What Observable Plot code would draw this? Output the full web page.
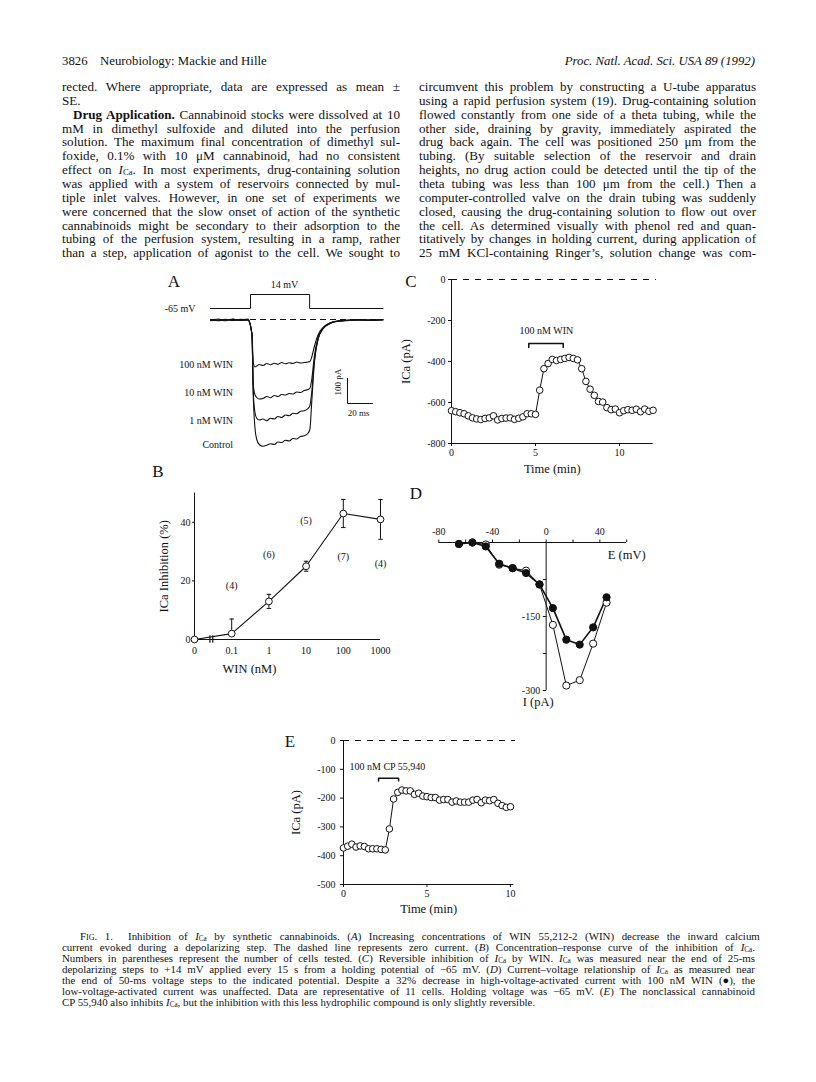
<!DOCTYPE html>
<html><head><meta charset="utf-8">
<script src="https://cdn.jsdelivr.net/npm/d3@7"></script>
<script src="https://cdn.jsdelivr.net/npm/@observablehq/plot@0.6"></script>
<style>
html,body{margin:0;padding:0;background:#fff;}
#page{position:relative;width:816px;height:1082px;overflow:hidden;font-family:"Liberation Serif","Times New Roman",serif;color:#111;}
.ln{position:absolute;white-space:nowrap;line-height:1;display:inline-block;}
.ln sub{font-size:66%;vertical-align:-0.12em;line-height:0;}
.sc{font-variant:small-caps;}
.plt{position:absolute;}
.lab{position:absolute;font-size:17px;line-height:1;transform:translate(-50%,-50%);}
</style></head>
<body><div id="page"></div>
<script>
// ---------------- DATA ----------------
const headerLeftNum = "3826";
const headerLeftText = "Neurobiology: Mackie and Hille";
const headerRight = "Proc. Natl. Acad. Sci. USA 89 (1992)";

const leftColumn = [
 "rected. Where appropriate, data are expressed as mean &plusmn;",
 "SE.",
 "<b>Drug Application.</b> Cannabinoid stocks were dissolved at 10",
 "mM in dimethyl sulfoxide and diluted into the perfusion",
 "solution. The maximum final concentration of dimethyl sul-",
 "foxide, 0.1% with 10 &mu;M cannabinoid, had no consistent",
 "effect on <i>I</i><sub>Ca</sub>. In most experiments, drug-containing solution",
 "was applied with a system of reservoirs connected by mul-",
 "tiple inlet valves. However, in one set of experiments we",
 "were concerned that the slow onset of action of the synthetic",
 "cannabinoids might be secondary to their adsorption to the",
 "tubing of the perfusion system, resulting in a ramp, rather",
 "than a step, application of agonist to the cell. We sought to"
];
const rightColumn = [
 "circumvent this problem by constructing a U-tube apparatus",
 "using a rapid perfusion system (19). Drug-containing solution",
 "flowed constantly from one side of a theta tubing, while the",
 "other side, draining by gravity, immediately aspirated the",
 "drug back again. The cell was positioned 250 &mu;m from the",
 "tubing. (By suitable selection of the reservoir and drain",
 "heights, no drug action could be detected until the tip of the",
 "theta tubing was less than 100 &mu;m from the cell.) Then a",
 "computer-controlled valve on the drain tubing was suddenly",
 "closed, causing the drug-containing solution to flow out over",
 "the cell. As determined visually with phenol red and quan-",
 "titatively by changes in holding current, during application of",
 "25 mM KCl-containing Ringer&rsquo;s, solution change was com-"
];
const captionLines = [
 "<span class='sc'>Fig. 1.</span>&nbsp; Inhibition of <i>I</i><sub>Ca</sub> by synthetic cannabinoids. (<i>A</i>) Increasing concentrations of WIN 55,212-2 (WIN) decrease the inward calcium",
 "current evoked during a depolarizing step. The dashed line represents zero current. (<i>B</i>) Concentration&ndash;response curve of the inhibition of <i>I</i><sub>Ca</sub>.",
 "Numbers in parentheses represent the number of cells tested. (<i>C</i>) Reversible inhibition of <i>I</i><sub>Ca</sub> by WIN. <i>I</i><sub>Ca</sub> was measured near the end of 25-ms",
 "depolarizing steps to +14 mV applied every 15 s from a holding potential of &minus;65 mV. (<i>D</i>) Current&ndash;voltage relationship of <i>I</i><sub>Ca</sub> as measured near",
 "the end of 50-ms voltage steps to the indicated potential. Despite a 32% decrease in high-voltage-activated current with 100 nM WIN (&#9679;), the",
 "low-voltage-activated current was unaffected. Data are representative of 11 cells. Holding voltage was &minus;65 mV. (<i>E</i>) The nonclassical cannabinoid",
 "CP 55,940 also inhibits <i>I</i><sub>Ca</sub>, but the inhibition with this less hydrophilic compound is only slightly reversible."
];

// Panel A: voltage protocol (ms, mV)
const protoTime = [0, 32, 32, 79.3, 79.3, 138];
const protoVolt = [-65, -65, 14, 14, -65, -65];
// Panel A: current traces (ms, pA)
const traceTime = [0, 6, 12, 18, 24, 30, 33.2, 34.2, 35.5, 37, 39, 42, 45, 48, 51, 54, 57, 60, 63, 66, 69, 72, 75, 78, 79.5, 81, 83, 86, 90, 95, 100, 108, 118, 128, 138];
const traceControl = [-4, 2, -5, 1, -3, -2, -60, -300, -430, -480, -500, -507, -503, -497, -500, -490, -492, -483, -486, -476, -478, -468, -465, -455, -440, -330, -180, -80, -38, -18, -9, -4, -1, -3, 0];
const trace1nM = [-2, -5, 0, -4, 1, -3, -60, -290, -370, -395, -402, -398, -405, -395, -398, -388, -392, -382, -385, -375, -377, -367, -365, -356, -345, -290, -170, -78, -36, -17, -8, -5, -2, -4, -1];
const trace10nM = [-5, -1, -3, 2, -4, -1, -60, -260, -300, -312, -318, -316, -308, -313, -304, -308, -300, -302, -296, -298, -290, -292, -284, -280, -275, -240, -150, -74, -35, -16, -8, -3, -3, -1, -2];
const trace100nM = [0, -4, 1, -3, -2, 2, -60, -170, -190, -186, -180, -184, -176, -181, -175, -179, -172, -177, -173, -176, -170, -174, -172, -170, -168, -150, -110, -62, -32, -15, -7, -4, 0, -3, -1];
const traceLabels = ["100 nM WIN", "10 nM WIN", "1 nM WIN", "Control"];
const traceLabelLevels = [-180, -292, -404, -500];
const scaleBarCurrent = 100; // pA
const scaleBarTime = 20;     // ms

// Panel B: concentration-response
const winConc = [0, 0.1, 1, 10, 100, 1000];
const inhibition = [0, 2, 13, 25, 43, 41];
const errUp = [0, 5, 2.4, 1.7, 4.8, 6.8];
const errDown = [0, 0, 2.4, 1.7, 4.8, 6.8];
const nCells = ["", "(4)", "(6)", "(5)", "(7)", "(4)"];
const nCellsLevel = [null, 18.2, 28.8, 40.4, 28.1, 25.7];
const bTicksX = [0, 0.1, 1, 10, 100, 1000];
const bTicksY = [0, 20, 40];

// Panel C: time course, 100 nM WIN
const cTime = d3.range(49).map(i => i * 0.25);
const cCurrent = [-640, -645, -650, -655, -665, -675, -680, -683, -678, -675, -665, -685, -678, -676, -675, -682, -677, -670, -655, -655, -658, -540, -435, -410, -390, -395, -390, -385, -380, -385, -392, -435, -497, -535, -565, -595, -598, -625, -635, -632, -650, -640, -635, -638, -633, -645, -632, -643, -638];
const cBracket = [4.6, 6.65];
const cTicksX = [0, 5, 10];
const cTicksY = [0, -200, -400, -600, -800];

// Panel D: I-V relationship
const dVoltage = [-65, -55, -45, -35, -25, -15, -5, 5, 15, 25, 35, 45];
const dControl = [-3, 0, -4, -45, -52, -57, -85, -167, -290, -279, -205, -122];
const dWin = [-3, 0, -8, -43, -52, -62, -85, -133, -197, -207, -172, -111];
const dTicksX = [-80, -40, 0, 40];
const dMinorX = [-80, -60, -40, -20, 0, 20, 40, 60];
const dTicksY = [-150, -300];
const dMinorY = [-75, -150, -225, -300];

// Panel E: time course, 100 nM CP 55,940
const eTime = d3.range(41).map(i => i * 0.25);
const eCurrent = [-373, -367, -360, -370, -366, -368, -376, -376, -376, -378, -380, -307, -203, -180, -172, -175, -175, -187, -183, -193, -195, -198, -198, -207, -205, -205, -214, -210, -214, -214, -214, -207, -205, -216, -207, -209, -205, -218, -226, -232, -230];
const eBracket = [2.1, 3.3];
const eTicksX = [0, 5, 10];
const eTicksY = [0, -100, -200, -300, -400, -500];

// ---------------- PAGE TEXT ----------------
const page = document.getElementById("page");
function addLine(html, left, top, size, width, opts = {}) {
  const d = document.createElement("div");
  d.className = "ln";
  d.innerHTML = html;
  d.style.left = left + "px";
  d.style.top = top + "px";
  d.style.fontSize = size + "px";
  if (opts.italic) d.style.fontStyle = "italic";
  page.appendChild(d);
  if (width) {
    const w = d.getBoundingClientRect().width;
    const n = (d.textContent.match(/ /g) || []).length;
    if (n > 0) d.style.wordSpacing = ((width - w) / n) + "px";
  }
  if (opts.right) { const w = d.getBoundingClientRect().width; d.style.left = (opts.right - w) + "px"; }
  return d;
}
addLine(headerLeftNum, 62, 55, 12.8);
addLine(headerLeftText, 100, 55, 12.8);
addLine(headerRight, 0, 55, 12.8, null, {italic: true, right: 755});

const bodyTop = 80, bodyStep = 13.85, bodySize = 13.1;
leftColumn.forEach((s, i) => {
  const indent = i === 2 ? 11 : 0;
  addLine(s, 62 + indent, bodyTop + i * bodyStep, bodySize, i === 1 ? null : 338 - indent);
});
rightColumn.forEach((s, i) => addLine(s, 419, bodyTop + i * bodyStep, bodySize, 337));
captionLines.forEach((s, i) => {
  const indent = i === 0 ? 18 : 0;
  addLine(s, 62 + indent, 931 + i * 11, 10.9, i === captionLines.length - 1 ? null : 693 - indent);
});

function panelLetter(t, x, y) {
  const d = document.createElement("div");
  d.className = "lab"; d.textContent = t;
  d.style.left = x + "px"; d.style.top = y + "px";
  page.appendChild(d);
}
panelLetter("A", 174, 281);
panelLetter("B", 158, 471);
panelLetter("C", 411, 281);
panelLetter("D", 416, 493);
panelLetter("E", 290, 741);

function place(svg, left, top) {
  const d = document.createElement("div");
  d.className = "plt"; d.style.left = left + "px"; d.style.top = top + "px";
  d.appendChild(svg); page.appendChild(d);
}
const ink = "#111";
const baseStyle = {fontFamily: "'Liberation Serif', 'Times New Roman', serif", fontSize: "10px", background: "transparent", overflow: "visible", color: ink};
const fmt = d => String(d);

// ---------------- PANEL A ----------------
const proto = protoTime.map((t, i) => ({t, v: protoVolt[i]}));
place(Plot.plot({
  width: 230, height: 40, marginLeft: 50, marginRight: 7.5, marginTop: 22, marginBottom: 3.1,
  style: baseStyle,
  x: {domain: [0, 138], axis: null}, y: {domain: [-70, 14], axis: null},
  marks: [
    Plot.line(proto, {x: "t", y: "v", stroke: ink, strokeWidth: 1}),
    Plot.text(["14 mV"], {x: () => 59.2, y: () => 14, dy: -10, fontSize: 10}),
    Plot.text(["-65 mV"], {x: () => -12, y: () => -65, textAnchor: "end", fontSize: 10})
  ]
}), 160, 272);

const traces = [traceControl, trace1nM, trace10nM, trace100nM].flatMap((arr, k) =>
  arr.map((I, i) => ({t: traceTime[i], I, k})));
const labelRows = traceLabels.map((s, i) => ({s, I: traceLabelLevels[i]}));
place(Plot.plot({
  width: 230, height: 145, marginLeft: 50, marginRight: 7.5, marginTop: 2, marginBottom: 8,
  style: baseStyle,
  x: {domain: [0, 138], axis: null}, y: {domain: [-520, 20], axis: null},
  marks: [
    Plot.ruleY([0], {x1: 0, x2: 138, stroke: ink, strokeWidth: 1, strokeDasharray: "6,4"}),
    Plot.line(traces, {x: "t", y: "I", z: "k", stroke: ink, strokeWidth: 1.1, curve: "monotone-x"}),
    Plot.text(labelRows, {x: () => 18, y: "I", text: "s", textAnchor: "end", fontSize: 10}),
    Plot.line([{t: 109.6, I: -236}, {t: 109.6, I: -236 - scaleBarCurrent}, {t: 109.6 + scaleBarTime, I: -236 - scaleBarCurrent}], {x: "t", y: "I", stroke: ink, strokeWidth: 1}),
    Plot.text([scaleBarCurrent + " pA"], {x: () => 101.8, y: () => -250, rotate: -90, fontSize: 9}),
    Plot.text([scaleBarTime + " ms"], {x: () => 118.5, y: () => -374, fontSize: 9})
  ]
}), 160, 312);

// ---------------- PANEL B ----------------
const pos = c => c === 0 ? 0.01 : c;
const bRows = winConc.map((c, i) => ({x: pos(c), y: inhibition[i], hi: inhibition[i] + errUp[i], lo: inhibition[i] - errDown[i], n: nCells[i], ny: nCellsLevel[i]}));
const bErr = bRows.filter(r => r.hi > r.y);
place(Plot.plot({
  width: 265, height: 215, marginLeft: 54, marginRight: 25, marginTop: 30.5, marginBottom: 38,
  style: baseStyle,
  x: {type: "log", domain: [0.01, 1000]}, y: {domain: [0, 50]},
  marks: [
    Plot.ruleY([0], {x1: 0.01, x2: 1000, stroke: ink}),
    Plot.ruleX([0.01], {y1: 0, y2: 50, stroke: ink}),
    Plot.axisY(bTicksY, {tickSize: 2, tickPadding: 2, fontSize: 10, tickFormat: fmt, label: null}),
    Plot.axisX(bTicksX.map(pos), {tickSize: 0, tickPadding: 7, fontSize: 10, tickFormat: d => d === 0.01 ? "0" : fmt(d), label: null}),
    Plot.line(bRows, {x: "x", y: "y", stroke: ink, strokeWidth: 1.1}),
    Plot.ruleX([0.026, 0.031], {y1: -1.3, y2: 1.3, stroke: ink, strokeWidth: 1.2}),
    Plot.ruleX(bErr, {x: "x", y1: "lo", y2: "hi", stroke: ink}),
    Plot.link(bErr, {x1: r => r.x * 0.87, x2: r => r.x * 1.15, y1: "hi", y2: "hi", stroke: ink}),
    Plot.link(bErr.filter(r => r.lo < r.y), {x1: r => r.x * 0.87, x2: r => r.x * 1.15, y1: "lo", y2: "lo", stroke: ink}),
    Plot.dot(bRows, {x: "x", y: "y", r: 3.4, fill: "white", stroke: ink, strokeWidth: 1}),
    Plot.text(bRows.filter(r => r.n), {x: "x", y: "ny", text: "n", fontSize: 10}),
    Plot.text(["ICa Inhibition (%)"], {frameAnchor: "left", dx: -31, rotate: -90, textAnchor: "middle", lineAnchor: "middle", fontSize: 12.5}),
    Plot.text(["WIN (nM)"], {x: () => 0.3, frameAnchor: "bottom", dy: 29, lineAnchor: "middle", fontSize: 12.5})
  ]
}), 140, 462);

// ---------------- PANEL C ----------------
const cRows = cTime.map((t, i) => ({t, I: cCurrent[i]}));
place(Plot.plot({
  width: 270, height: 220, marginLeft: 51, marginRight: 17.4, marginTop: 19, marginBottom: 37,
  style: baseStyle,
  x: {domain: [0, 12]}, y: {domain: [-800, 0]},
  marks: [
    Plot.ruleY([0], {x1: 0, x2: 12.2, stroke: ink, strokeDasharray: "6,6"}),
    Plot.ruleX([0], {y1: -800, y2: 0, stroke: ink}),
    Plot.ruleY([-800], {x1: 0, x2: 12, stroke: ink}),
    Plot.axisY(cTicksY, {tickSize: 3, tickPadding: 3, fontSize: 10, tickFormat: fmt, label: null}),
    Plot.axisX(cTicksX, {tickSize: 3, tickPadding: 2, fontSize: 10, tickFormat: fmt, label: null}),
    Plot.line([{t: cBracket[0], I: -332}, {t: cBracket[0], I: -312}, {t: cBracket[1], I: -312}, {t: cBracket[1], I: -332}], {x: "t", y: "I", stroke: ink}),
    Plot.text(["100 nM WIN"], {x: () => 5.65, y: () => -249, fontSize: 10}),
    Plot.line(cRows, {x: "t", y: "I", stroke: ink, strokeWidth: 1}),
    Plot.dot(cRows, {x: "t", y: "I", r: 3.3, fill: "white", stroke: ink, strokeWidth: 1}),
    Plot.text(["ICa (pA)"], {frameAnchor: "left", dx: -46, rotate: -90, textAnchor: "middle", lineAnchor: "middle", fontSize: 12.5}),
    Plot.text(["Time (min)"], {frameAnchor: "bottom", dy: 25, lineAnchor: "middle", fontSize: 12.5})
  ]
}), 400, 260);

// ---------------- PANEL D ----------------
const dRowsC = dVoltage.map((E, i) => ({E, I: dControl[i]}));
const dRowsW = dVoltage.map((E, i) => ({E, I: dWin[i]}));
place(Plot.plot({
  width: 270, height: 225, marginLeft: 33.3, marginRight: 48.8, marginTop: 57, marginBottom: 20,
  style: baseStyle,
  x: {domain: [-80, 60]}, y: {domain: [-300, 0], axis: null},
  marks: [
    Plot.ruleY([0], {x1: -80, x2: 60, stroke: ink}),
    Plot.ruleX([0], {y1: -300, y2: 0, stroke: ink}),
    Plot.ruleX(dMinorX, {y1: 0, y2: 5, stroke: ink}),
    Plot.axisX(dTicksX, {anchor: "top", tickSize: 0, tickPadding: 8, fontSize: 10, tickFormat: fmt, label: null}),
    Plot.link(dMinorY, {x1: () => 0, x2: () => -2.5, y1: d => d, y2: d => d, stroke: ink}),
    Plot.text(dTicksY, {x: () => 0, y: d => d, text: fmt, dx: -6, textAnchor: "end", fontSize: 10}),
    Plot.text(["E (mV)"], {x: () => 60, y: () => 0, dy: 12, fontSize: 12.5}),
    Plot.text(["I (pA)"], {x: () => 0, y: () => -300, dy: 11, dx: -8, fontSize: 12.5}),
    Plot.line(dRowsC, {x: "E", y: "I", stroke: ink, strokeWidth: 1}),
    Plot.line(dRowsW, {x: "E", y: "I", stroke: ink, strokeWidth: 1.6}),
    Plot.dot(dRowsC, {x: "E", y: "I", r: 3.6, fill: "white", stroke: ink, strokeWidth: 1}),
    Plot.dot(dRowsW, {x: "E", y: "I", r: 3.6, fill: ink, stroke: ink, strokeWidth: 1})
  ]
}), 405, 485);

// ---------------- PANEL E ----------------
const eRows = eTime.map((t, i) => ({t, I: eCurrent[i]}));
place(Plot.plot({
  width: 245, height: 190, marginLeft: 63, marginRight: 11.7, marginTop: 10, marginBottom: 36,
  style: baseStyle,
  x: {domain: [0, 10.2]}, y: {domain: [-500, 0]},
  marks: [
    Plot.ruleY([0], {x1: 0, x2: 10.3, stroke: ink, strokeDasharray: "6,6"}),
    Plot.ruleX([0], {y1: -500, y2: 0, stroke: ink}),
    Plot.ruleY([-500], {x1: 0, x2: 10.2, stroke: ink}),
    Plot.axisY(eTicksY, {tickSize: 3, tickPadding: 5, fontSize: 10, tickFormat: fmt, label: null}),
    Plot.axisX(eTicksX, {tickSize: 3, tickPadding: 2, fontSize: 10, tickFormat: fmt, label: null}),
    Plot.line([{t: eBracket[0], I: -141}, {t: eBracket[0], I: -131}, {t: eBracket[1], I: -131}, {t: eBracket[1], I: -141}], {x: "t", y: "I", stroke: ink}),
    Plot.text(["100 nM CP 55,940"], {x: () => 2.63, y: () => -93, fontSize: 10}),
    Plot.line(eRows, {x: "t", y: "I", stroke: ink, strokeWidth: 1}),
    Plot.dot(eRows, {x: "t", y: "I", r: 3.3, fill: "white", stroke: ink, strokeWidth: 1}),
    Plot.text(["ICa (pA)"], {frameAnchor: "left", dx: -48, rotate: -90, textAnchor: "middle", lineAnchor: "middle", fontSize: 12.5}),
    Plot.text(["Time (min)"], {frameAnchor: "bottom", dy: 24, lineAnchor: "middle", fontSize: 12.5})
  ]
}), 280, 730);
</script>
</body></html>
